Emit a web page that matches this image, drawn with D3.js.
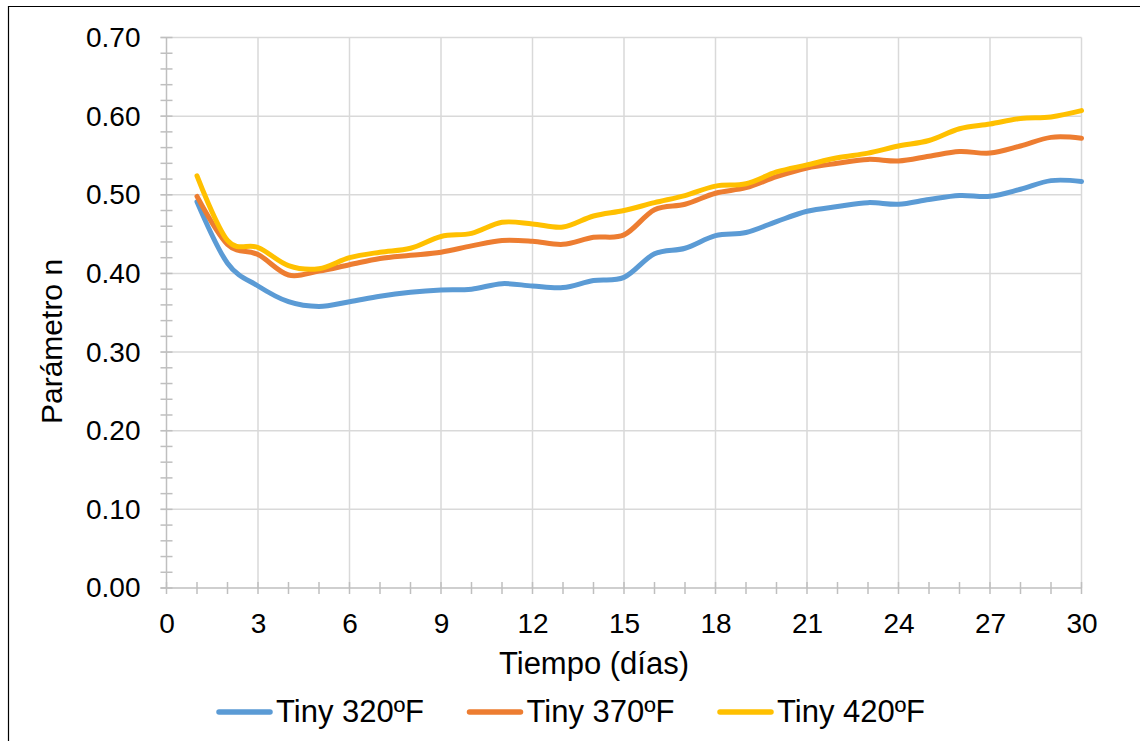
<!DOCTYPE html>
<html>
<head>
<meta charset="utf-8">
<script src="https://cdn.jsdelivr.net/npm/d3@7"></script>
<style>
  html, body { margin: 0; padding: 0; background: #fff; }
  svg { display: block; font-family: "Liberation Sans", Arial, sans-serif; }
</style>
</head>
<body>
<svg id="chart" width="1140" height="741"></svg>
<script>
// Parámetro n vs. tiempo for three tiny-size mixes
const days = [1, 2, 3, 4, 5, 6, 7, 8, 9, 10, 11, 12, 13, 14, 15, 16, 17, 18, 19, 20, 21, 22, 23, 24, 25, 26, 27, 28, 29, 30];
const tiny320 = [0.491, 0.413, 0.384, 0.364, 0.358, 0.364, 0.371, 0.376, 0.379, 0.380, 0.387, 0.384, 0.382, 0.391, 0.395, 0.425, 0.432, 0.448, 0.452, 0.466, 0.479, 0.485, 0.490, 0.488, 0.494, 0.499, 0.498, 0.507, 0.518, 0.517];
const tiny370 = [0.498, 0.437, 0.424, 0.398, 0.403, 0.411, 0.419, 0.423, 0.427, 0.435, 0.442, 0.441, 0.437, 0.446, 0.449, 0.481, 0.488, 0.502, 0.509, 0.523, 0.534, 0.540, 0.545, 0.543, 0.549, 0.555, 0.553, 0.562, 0.573, 0.572];
const tiny420 = [0.524, 0.442, 0.433, 0.410, 0.406, 0.420, 0.427, 0.432, 0.447, 0.451, 0.465, 0.463, 0.459, 0.473, 0.480, 0.490, 0.499, 0.511, 0.514, 0.529, 0.538, 0.547, 0.553, 0.562, 0.569, 0.584, 0.590, 0.597, 0.599, 0.607];
const seriesNames = ["Tiny 320ºF", "Tiny 370ºF", "Tiny 420ºF"];
const seriesColors = ["#5B9BD5", "#ED7D31", "#FFC000"];
const xTicks = [0, 3, 6, 9, 12, 15, 18, 21, 24, 27, 30];
const yTicks = [0, 0.1, 0.2, 0.3, 0.4, 0.5, 0.6, 0.7];
const xTitle = "Tiempo (días)";
const yTitle = "Parámetro n";

const svg = d3.select("#chart");
const plot = { left: 166.5, right: 1081.5, top: 37.5, bottom: 588 };

const x = d3.scaleLinear().domain([0, 30]).range([plot.left, plot.right]);
const y = d3.scaleLinear().domain([0, 0.7]).range([plot.bottom, plot.top]);

const gridColor = "#D9D9D9";
const axisColor = "#BFBFBF";

// outer frame (top and left edges)
svg.append("path")
  .attr("d", "M8.5,741 V6.5 H1140")
  .attr("fill", "none").attr("stroke", "#000").attr("stroke-width", 1.2);

// horizontal gridlines
svg.append("g").selectAll("line").data(yTicks.filter(v => v > 0)).join("line")
  .attr("x1", plot.left - 6).attr("x2", plot.right)
  .attr("y1", d => y(d)).attr("y2", d => y(d))
  .attr("stroke", gridColor).attr("stroke-width", 1.5);

// vertical gridlines
svg.append("g").selectAll("line").data(xTicks.filter(v => v > 0)).join("line")
  .attr("x1", d => x(d)).attr("x2", d => x(d))
  .attr("y1", plot.top).attr("y2", plot.bottom)
  .attr("stroke", gridColor).attr("stroke-width", 1.5);

// minor y ticks every 0.02, crossing the axis
const yMinor = d3.range(0, 36).map(i => +(i * 0.02).toFixed(2));
svg.append("g").selectAll("line").data(yMinor).join("line")
  .attr("x1", plot.left - 6).attr("x2", plot.left + 6)
  .attr("y1", d => y(d)).attr("y2", d => y(d))
  .attr("stroke", axisColor).attr("stroke-width", 1.5);

// minor x ticks every day, crossing the axis
svg.append("g").selectAll("line").data(d3.range(0, 31)).join("line")
  .attr("x1", d => x(d)).attr("x2", d => x(d))
  .attr("y1", plot.bottom - 6).attr("y2", plot.bottom + 6)
  .attr("stroke", axisColor).attr("stroke-width", 1.5);

// axis lines
svg.append("line")
  .attr("x1", plot.left).attr("x2", plot.left)
  .attr("y1", plot.top).attr("y2", plot.bottom)
  .attr("stroke", axisColor).attr("stroke-width", 1.5);
svg.append("line")
  .attr("x1", plot.left - 6).attr("x2", plot.right)
  .attr("y1", plot.bottom).attr("y2", plot.bottom)
  .attr("stroke", axisColor).attr("stroke-width", 1.5);

// tick labels via d3 axes (tick marks hidden; drawn above)
const yAxis = d3.axisLeft(y).tickValues(yTicks).tickFormat(d3.format(".2f")).tickSize(0).tickPadding(26);
const gy = svg.append("g").attr("transform", `translate(${plot.left},0)`).call(yAxis);
gy.select(".domain").remove();
gy.selectAll("text").attr("font-size", 28).attr("fill", "#000")
  .attr("font-family", "Liberation Sans, Arial, sans-serif");

const xAxis = d3.axisBottom(x).tickValues(xTicks).tickFormat(d3.format("d")).tickSize(0).tickPadding(25);
const gx = svg.append("g").attr("transform", `translate(0,${plot.bottom})`).call(xAxis);
gx.select(".domain").remove();
gx.selectAll("text").attr("font-size", 28).attr("fill", "#000")
  .attr("font-family", "Liberation Sans, Arial, sans-serif");

// series lines (smoothed)
const series = [tiny320, tiny370, tiny420];
const line = d3.line()
  .x((d, i) => x(days[i]))
  .y(d => y(d))
  .curve(d3.curveCardinal.tension(0));

svg.append("g").selectAll("path").data(series).join("path")
  .attr("d", d => line(d))
  .attr("fill", "none")
  .attr("stroke", (d, i) => seriesColors[i])
  .attr("stroke-width", 5)
  .attr("stroke-linecap", "round")
  .attr("stroke-linejoin", "round");

// axis titles
svg.append("text")
  .attr("x", 594).attr("y", 674)
  .attr("text-anchor", "middle")
  .attr("font-size", 31).attr("fill", "#000")
  .text(xTitle);

svg.append("text")
  .attr("transform", "translate(62,424) rotate(-90)")
  .attr("text-anchor", "start")
  .attr("font-size", 30).attr("fill", "#000")
  .text(yTitle);

// legend
const legend = svg.append("g").selectAll("g").data(seriesNames).join("g")
  .attr("transform", (d, i) => `translate(${217 + i * 250.5},0)`);
legend.append("line")
  .attr("x1", 2).attr("x2", 53).attr("y1", 712).attr("y2", 712)
  .attr("stroke", (d, i) => seriesColors[i])
  .attr("stroke-width", 5.5).attr("stroke-linecap", "round");
legend.append("text")
  .attr("x", 59).attr("y", 722)
  .attr("font-size", 31).attr("fill", "#000")
  .text(d => d);
</script>
</body>
</html>
